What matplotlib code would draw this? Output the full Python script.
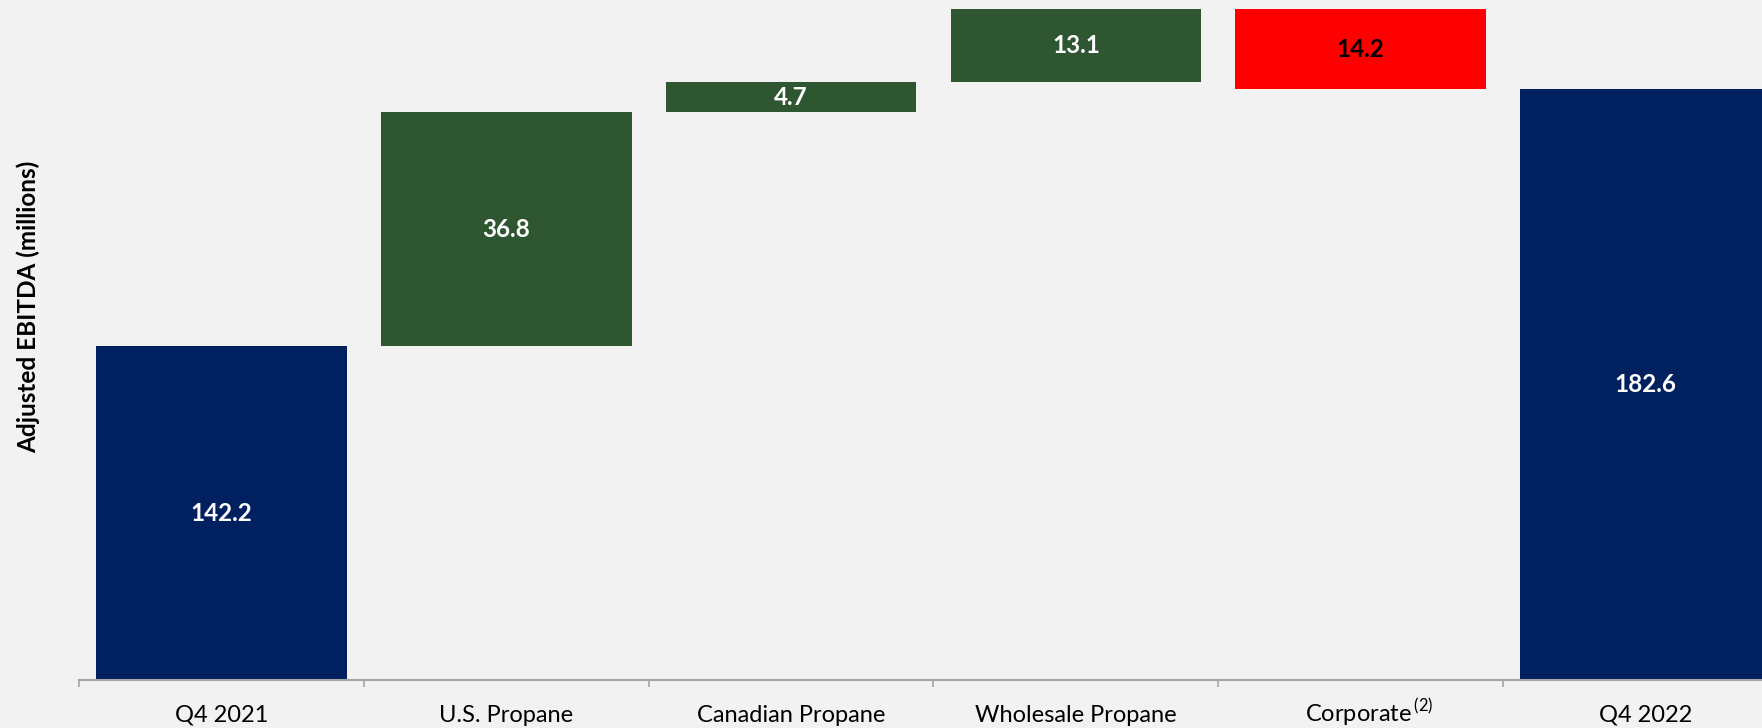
import numpy as np
import matplotlib
matplotlib.use('Agg')
import matplotlib.pyplot as plt

# Waterfall data (millions)
categories = ['Q4 2021', 'U.S. Propane', 'Canadian Propane', 'Wholesale Propane',
              'Corporate$^{\\,\\mathregular{(2)}}$', 'Q4 2022']
start_value = 142.2
changes = [36.8, 4.7, 13.1, -14.2]
end_value = 182.6
value_labels = ['142.2', '36.8', '4.7', '13.1', '14.2', '182.6']

navy = '#002060'
green = '#2e5631'
red = '#ff0000'
bg = '#f2f2f2'
axis_grey = '#a6a6a6'

plt.rcParams['font.family'] = ['Lato', 'DejaVu Sans']
plt.rcParams['mathtext.fontset'] = 'custom'
plt.rcParams['mathtext.rm'] = 'Lato'

fig = plt.figure(figsize=(17.62, 7.28), dpi=100, facecolor=bg)
ax = fig.add_axes([79 / 1762, 48 / 728, 1 - 79 / 1762, 671 / 728])
ax.set_facecolor(bg)

ymin, ymax = 89.8, 195.2

# build bar bottoms / heights
bottoms = [ymin]
heights = [start_value - ymin]
colors = [navy]
running = start_value
for c in changes:
    if c >= 0:
        bottoms.append(running)
        heights.append(c)
        colors.append(green)
    else:
        bottoms.append(running + c)
        heights.append(-c)
        colors.append(red)
    running += c
bottoms.append(ymin)
heights.append(end_value - ymin)
colors.append(navy)

x = np.arange(len(categories))
ax.bar(x, heights, bottom=bottoms, width=0.88, color=colors, zorder=2)

# value labels, centred in the visible part of each bar
for i in range(len(x)):
    lo = max(bottoms[i], ymin)
    hi = min(bottoms[i] + heights[i], ymax)
    txt_color = 'black' if colors[i] == red else 'white'
    ax.text(x[i], (lo + hi) / 2, value_labels[i], ha='center', va='center',
            color=txt_color, fontsize=17.5, fontweight='bold', zorder=3)

# separator ticks between categories
ax.set_xticks([])
ax.set_xticks(np.arange(-0.5, 5, 1), minor=True)
ax.tick_params(axis='x', which='minor', length=5, color=axis_grey, width=1.2)
ax.set_yticks([])

# set limits after ticks so they are not widened
ax.set_xlim(-0.5, 5.409)
ax.set_ylim(ymin, ymax)

# category labels aligned on a common baseline
for i, lab in enumerate(categories):
    dx = 8 if i == 4 else 0
    ax.annotate(lab, xy=(x[i], 0), xycoords=('data', 'axes fraction'),
                xytext=(dx * 0.72, -30), textcoords='offset points',
                ha='center', va='baseline', fontsize=17, annotation_clip=False)

for s in ['top', 'right', 'left']:
    ax.spines[s].set_visible(False)
ax.spines['bottom'].set_color(axis_grey)
ax.spines['bottom'].set_linewidth(1.5)

fig.text(28 / 1762, 0.578, 'Adjusted EBITDA (millions)', rotation=90, ha='center',
         va='center', fontsize=17.5, fontweight='bold')

fig.savefig('out.png', dpi=100, facecolor=bg)
